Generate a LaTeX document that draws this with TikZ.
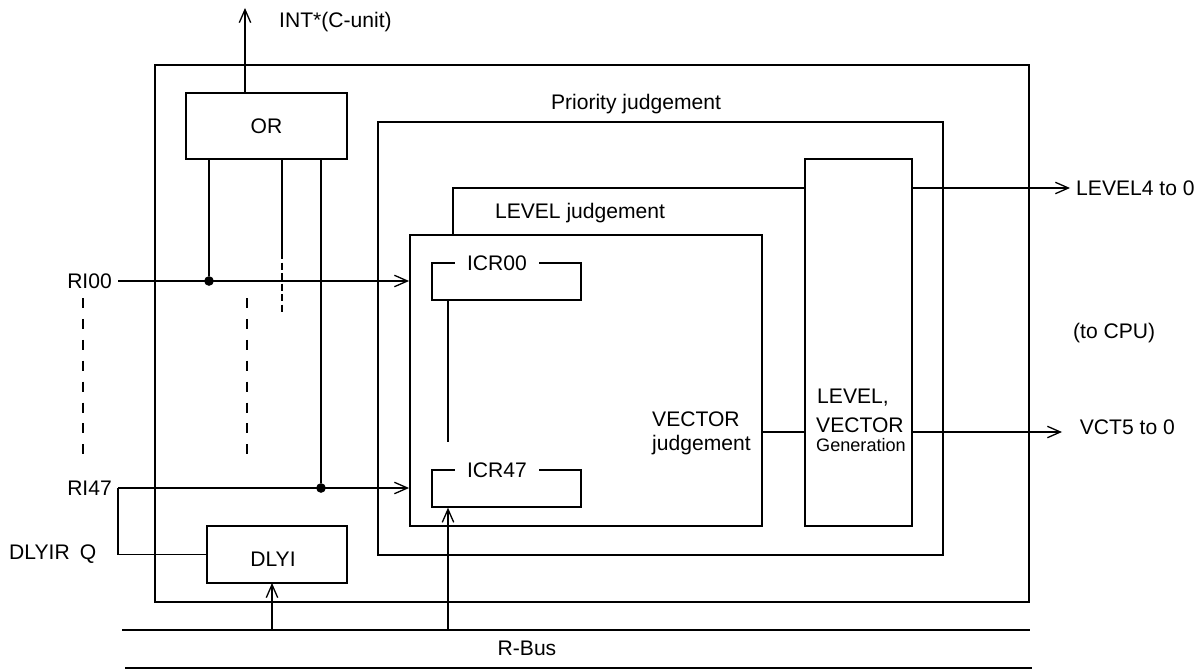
\documentclass[tikz,border=0pt]{standalone}
\usepackage{fontspec}
\setmainfont{Liberation Sans}
\usetikzlibrary{arrows.meta}

\begin{document}
\begin{tikzpicture}[x=0.02cm, y=-0.02cm, every node/.style={font=\fontsize{12}{14}\selectfont}, >={Straight Barb[length=7.4pt,width=6.5pt]}, blk/.style={draw, line width=1.1pt, inner sep=0pt}, wire/.style={line width=0.75pt}, dot/.style={circle, fill, inner sep=0pt, minimum size=5.5pt}, bus/.style={line width=1.1pt}, gap/.style={line width=1.4pt, dash pattern=on 5.7pt off 6.2pt}]
	\useasboundingbox (0,0) rectangle (1203,669);
	\node[blk, minimum width=17.48cm, minimum height=10.74cm] (outer) at (592,333.5) {};
	\node[blk, minimum width=11.30cm, minimum height=8.66cm] (prio) at (660.5,338.5) {};
	\node[blk, minimum width=7.04cm, minimum height=5.82cm] (lj) at (586,380.5) {};
	\node[blk, minimum width=2.14cm, minimum height=7.34cm] (lvg) at (858.5,342.5) {};
	\node[blk, minimum width=3.22cm, minimum height=1.32cm] (orbox) at (266.5,126) {OR};
	\node[blk, minimum width=2.80cm, minimum height=1.14cm] (dlyi) at (277,554.5) {};
	\node (dlyit) at (273,559) {DLYI};
	\node[draw, wire, minimum width=2.98cm, minimum height=0.74cm] (icr0) at (506.5,281.5) {};
	\node[draw, wire, minimum width=2.98cm, minimum height=0.74cm] (icr47) at (506.5,488.5) {};
	\node[fill=white, inner xsep=7pt, inner ysep=1pt] (icr0t) at (497,263) {ICR00};
	\node[fill=white, inner xsep=7pt, inner ysep=1pt] (icr47t) at (497,470) {ICR47};
	\node (plbl) at (636,104) {Priority judgement};
	\node (ljlbl) at (580,213) {LEVEL judgement};
	\node[anchor=west, align=left, font=\fontsize{12}{13.6}\selectfont] (vjl) at (646,433) {VECTOR\\judgement};
	\node[anchor=base west] (lvgA) at (811,403) {LEVEL,};
	\node[anchor=base west] (lvgB) at (810,432) {VECTOR};
	\node[anchor=base west, font=\fontsize{10.3}{12}\selectfont] (lvgC) at (810,451) {Generation};
	\node[anchor=west] (int) at (273,22) {INT*(C-unit)};
	\node[anchor=east] (ri00) at (118,281) {RI00};
	\node[anchor=east] (ri47) at (118,488) {RI47};
	\node[anchor=west] (dlyq) at (3,554) {DLYIR\hspace{2.5pt} Q};
	\node[anchor=west] (lev) at (1070,188) {LEVEL4 to 0};
	\node[anchor=west] (cpu) at (1067,333) {(to CPU)};
	\node[anchor=west, inner xsep=10pt] (vct) at (1062,427) {VCT5 to 0};
	\node (rbus) at (527,648) {R-Bus};
	\node[dot] (d00) at (209,281) {};
	\node[dot] (d47) at (321,488) {};
	\coordinate (intend) at (245,8);
	\coordinate (mid) at (282,252);
	\coordinate (icrv) at (448,442);
	\coordinate (dlin) at (272,583);
	\coordinate (lvl) at (453,188);
	\coordinate (vcl) at (762,432);
	\coordinate (bus1) at (122,630);
	\coordinate (bus1e) at (1030,630);
	\coordinate (bus2) at (125,668);
	\coordinate (bus2e) at (1032,668);
	\draw[wire,->] (orbox.north -| intend) -- (intend);
	\draw[wire,->] (ri00.east) -- (ri00.east -| lj.west);
	\draw[wire,->] (ri47.east) -- (ri47.east -| lj.west);
	\draw[wire] (orbox.south -| d00) -- (d00);
	\draw[wire] (orbox.south -| d47) -- (d47);
	\draw[wire] (orbox.south -| mid) -- (mid);
	\draw[wire, dash pattern=on 4pt off 2pt] (mid) -- ++(0,60);
	\foreach \x in {83,247} \draw[gap] (\x,298) -- (\x,457);
	\draw[wire] (ri47.east) |- (dlyi.west);
	\draw[bus] (bus1) -- (bus1e);
	\draw[bus] (bus2) -- (bus2e);
	\draw[wire,->] (dlin |- bus1) -- (dlin);
	\draw[wire] (icr0.south -| icrv) -- (icrv);
	\draw[wire,->] (icrv |- bus1) -- (icrv |- icr47.south);
	\draw[wire] (lj.north -| lvl) -- (lvl) -- (lvl -| lvg.west);
	\draw[wire,->] (lvl -| lvg.east) -- (lvl -| lev.west);
	\draw[wire] (lj.east |- vcl) -- (vcl -| lvg.west);
	\draw[wire,->] (vcl -| lvg.east) -- (vcl -| vct.west);
\end{tikzpicture}
\end{document}
